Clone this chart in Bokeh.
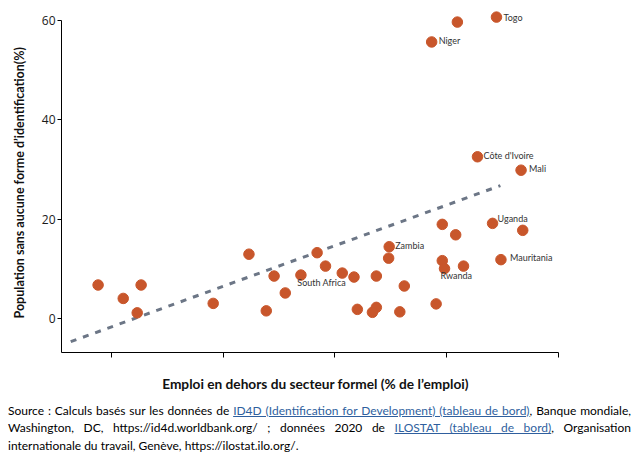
from bokeh.plotting import figure
from bokeh.models import FixedTicker, Label, Div, Title, CustomJSTickFormatter
from bokeh.layouts import column
from bokeh.embed import file_html
from bokeh.resources import INLINE

# ---------------- data ----------------
countries = ["", "", "", "", "", "", "", "", "", "South Africa",
             "", "", "", "", "", "", "", "", "Zambia", "",
             "", "", "", "", "Uganda", "", "Mauritania", "", "Rwanda", "",
             "", "", "Togo", "Niger", "Côte d'Ivoire", "Mali"]
informal = [17.6, 22.1, 25.3, 24.6, 38.2, 44.6, 47.7, 49.1, 51.1, 53.9,
            56.8, 58.3, 61.3, 63.4, 64.0, 67.4, 66.7, 67.4, 69.7, 69.6,
            72.4, 71.6, 79.2, 81.6, 88.2, 93.6, 89.7, 79.2, 79.6, 83.0,
            78.1, 81.9, 88.9, 77.3, 85.5, 93.3]
no_id = [6.8, 4.1, 6.8, 1.2, 3.1, 13.0, 1.6, 8.6, 5.2, 8.8,
         13.3, 10.6, 9.2, 8.4, 1.9, 2.3, 1.3, 8.6, 14.5, 12.2,
         6.6, 1.4, 19.0, 16.9, 19.2, 17.8, 11.9, 11.7, 10.1, 10.6,
         3.0, 59.7, 60.7, 55.7, 32.6, 29.9]
trend_x = [12.7, 89.6]
trend_y = [-4.6, 26.8]
x_ticks = [20, 40, 60, 80, 100]
y_ticks = [0, 20, 40, 60]

# ---------------- layout constants ----------------
X0, X1 = 11.05, 101.97
Y0, Y1 = -6.78, 62.03
PX_X = 5.5875   # px per x unit
PX_Y = 4.97     # px per y unit

p = figure(width=630, height=400, x_range=(X0, X1), y_range=(Y0, Y1),
           output_backend="svg", toolbar_location=None,
           min_border_left=61, min_border_right=61,
           min_border_top=10, min_border_bottom=48)
p.grid.visible = False
p.outline_line_color = None
p.background_fill_color = "white"
p.border_fill_color = "white"

# x axis
p.xaxis.ticker = FixedTicker(ticks=x_ticks)
p.xaxis.bounds = (X0, 100)
p.xaxis.formatter = CustomJSTickFormatter(code="return ''")
p.xaxis.major_label_standoff = 0
p.xaxis.major_tick_out = 5
p.xaxis.major_tick_in = 0
p.xaxis.minor_tick_line_color = None
p.xaxis.axis_line_color = "black"
p.xaxis.major_tick_line_color = "black"
p.xaxis.axis_label = "Emploi en dehors du secteur formel (% de l’emploi)"
p.xaxis.axis_label_standoff = 17
p.xaxis.axis_label_text_font = "Lato"
p.xaxis.axis_label_text_font_style = "bold"
p.xaxis.axis_label_text_font_size = "13.7px"
p.xaxis.axis_label_text_color = "#111111"

# y axis
p.yaxis.ticker = FixedTicker(ticks=y_ticks)
p.yaxis.bounds = (Y0, 60)
p.yaxis.major_tick_out = 4
p.yaxis.major_tick_in = 0
p.yaxis.minor_tick_line_color = None
p.yaxis.major_label_standoff = 2
p.yaxis.major_label_text_font = "Open Sans"
p.yaxis.major_label_text_font_size = "12px"
p.yaxis.major_label_text_color = "#1a1a1a"
p.yaxis.axis_line_color = "black"
p.yaxis.major_tick_line_color = "black"

# y title as a left-side title, started near the 0 tick
p.add_layout(Title(text="Population sans aucune forme d’identification(%)",
                   align="left", offset=34, vertical_align="middle",
                   text_font="Lato", text_font_style="bold", text_font_size="12.5px",
                   text_color="#111111", standoff=21), "left")

# trend line and points
p.line(trend_x, trend_y, line_color="#6c7686", line_width=3, line_dash="6 7")
p.scatter(informal, no_id, size=10.5, fill_color="#c8562b", line_color="#c8562b")

# point labels: offsets in px (dx right, dy down) from point centre to text left/middle
offsets = {
    "Togo": (7, 0), "Niger": (7, -1.7), "Côte d'Ivoire": (6, -1), "Mali": (8, -2),
    "Uganda": (5, -4.4), "Mauritania": (9, -1.7), "Zambia": (6, -1),
    "Rwanda": (-4, 6.4), "South Africa": (-3.6, 7),
}
for name, xv, yv in zip(countries, informal, no_id):
    if not name:
        continue
    dx, dy = offsets[name]
    p.add_layout(Label(x=xv + dx / PX_X, y=yv - dy / PX_Y, text=name,
                       text_font="Lato", text_font_size="9px", text_color="#333333",
                       text_align="left", text_baseline="middle"))

link = "color:#2f5f9e;text-decoration:underline;"
line_style = "text-align:justify;text-align-last:justify;"
html = (
    '<div style="font-family:\'Lato\',sans-serif;font-size:12px;'
    'line-height:17.3px;color:#000;width:623px;margin-left:3px;margin-top:-3px;">'
    f'<div style="{line_style}">Source : Calculs basés sur les données de '
    f'<span style="{link}">ID4D (Identification for Development) (tableau de bord)</span>, Banque mondiale,</div>'
    f'<div style="{line_style}">Washington, DC, https://id4d.worldbank.org/ ; données 2020 de '
    f'<span style="{link}">ILOSTAT (tableau de bord)</span>, Organisation</div>'
    '<div style="text-align:left;">internationale du travail, Genève, https://ilostat.ilo.org/.</div>'
    '</div>'
)
div = Div(text=html, width=630, height=56)

layout = column(p, div, spacing=0)
open("out.html", "w").write(file_html(layout, INLINE))
